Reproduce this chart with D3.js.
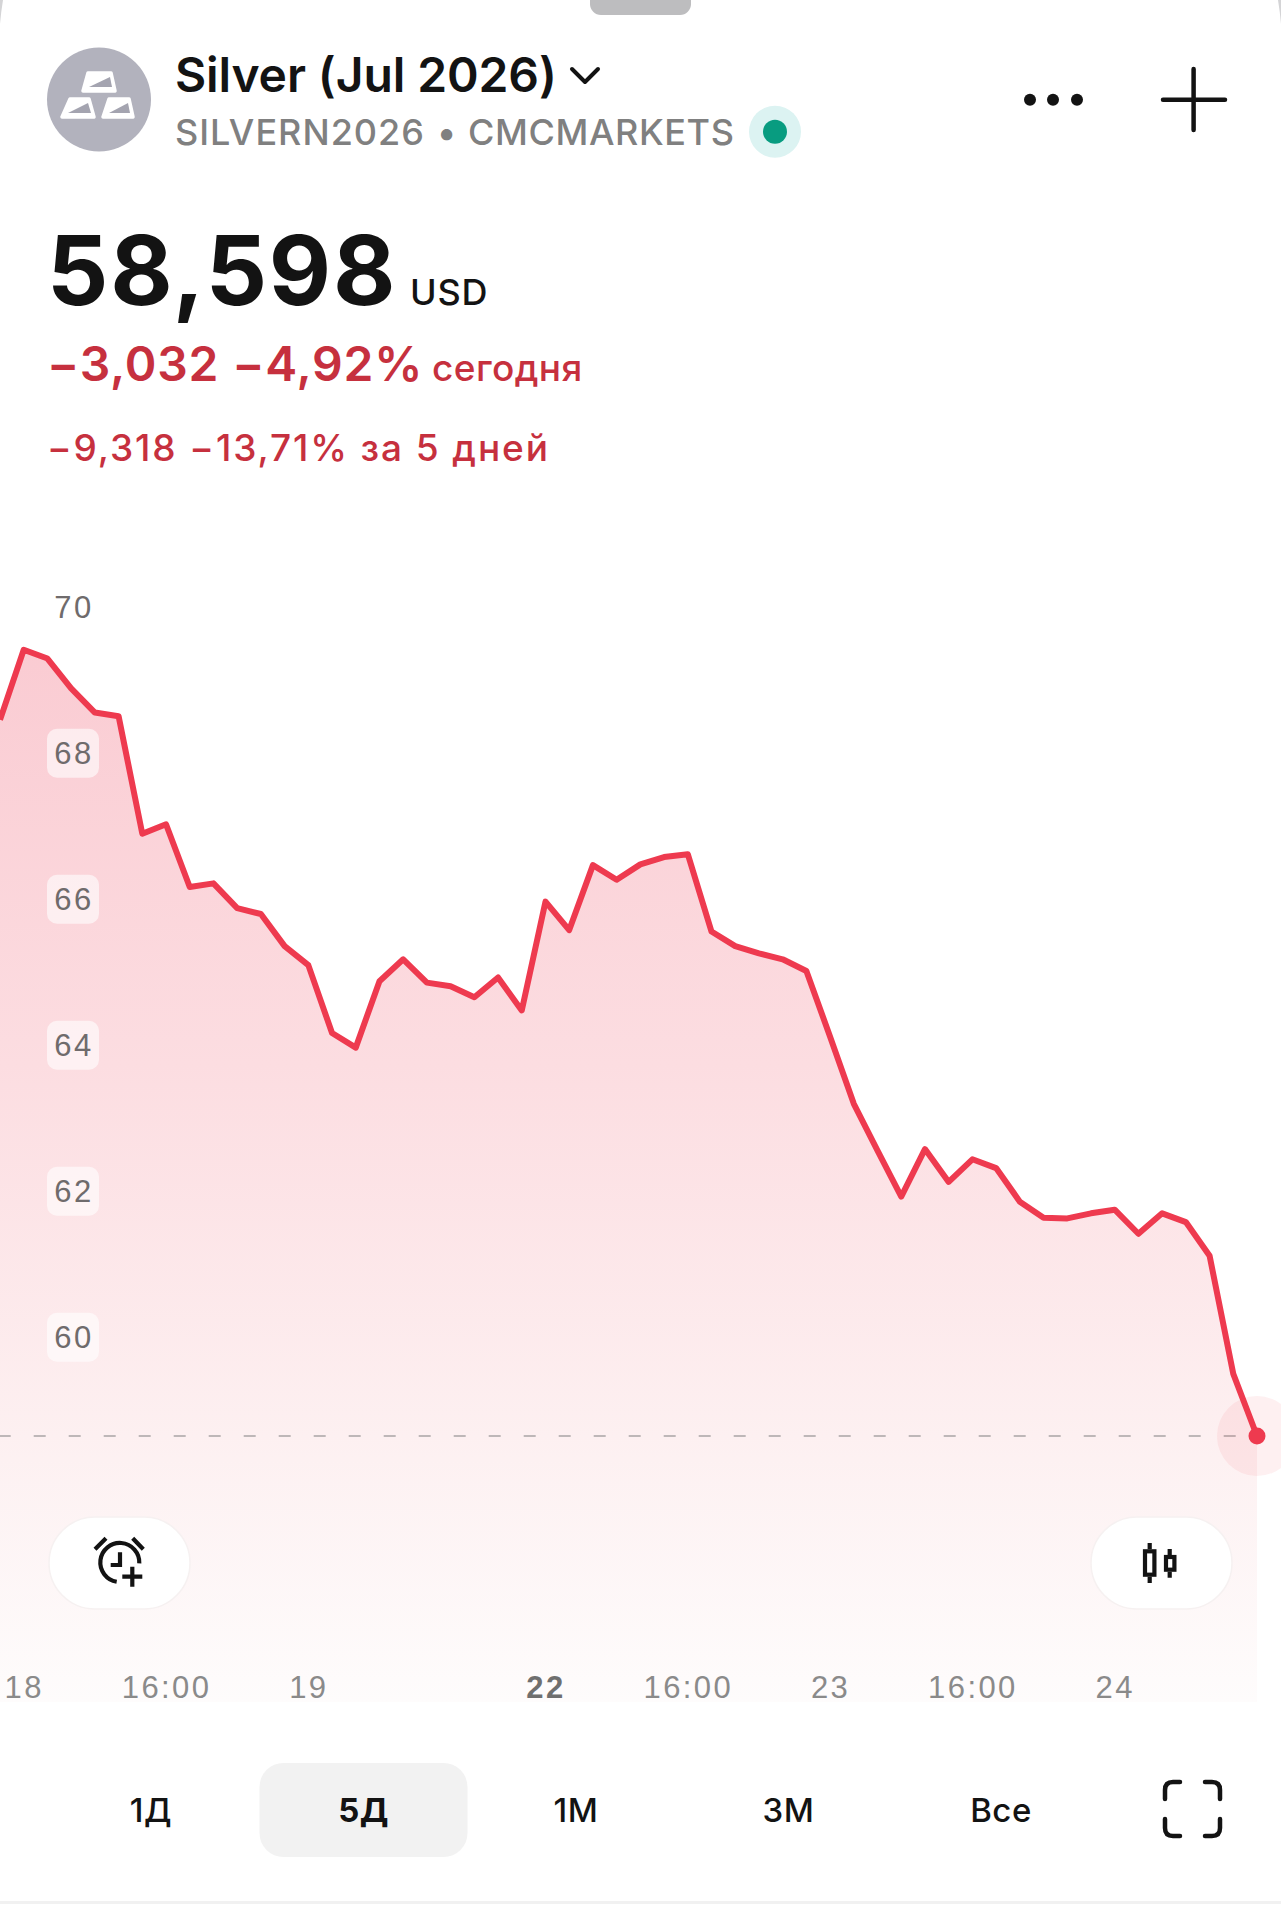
<!DOCTYPE html>
<html>
<head>
<meta charset="utf-8">
<script src="https://cdn.jsdelivr.net/npm/d3@7/dist/d3.min.js"></script>
<style>
  html, body { margin: 0; padding: 0; background: #fff; }
  svg { display: block; font-family: Inter, "Noto Sans", sans-serif; }
</style>
</head>
<body>
<svg></svg>
<script>
const width = 1281;
const height = 1920;

// Values, one per 5D bar
const prices = [
  68.45, 69.41, 69.29, 68.88, 68.55, 68.50, 66.89, 67.02, 66.16, 66.21,
  65.87, 65.79, 65.35, 65.09, 64.16, 63.96, 64.87, 65.17, 64.85, 64.80,
  64.65, 64.92, 64.47, 65.96, 65.57, 66.46, 66.26, 66.47, 66.57, 66.61,
  65.55, 65.35, 65.25, 65.17, 65.01, 64.11, 63.19, 62.55, 61.92, 62.57,
  62.12, 62.43, 62.31, 61.85, 61.63, 61.62, 61.69, 61.74, 61.41, 61.69,
  61.57, 61.11, 59.49, 58.64
];
const yTicks = [70, 68, 66, 64, 62, 60];
const xTickBars = [1, 7, 13, 23, 29, 35, 41, 47];
const xTickLabels = ["18", "16:00", "19", "22", "16:00", "23", "16:00", "24"];
const boldXLabel = "22";
const ranges = ["1Д", "5Д", "1М", "3М", "Все"];
const activeRange = "5Д";

const red = "#ee3a4f";
const textRed = "#c6303e";
const grey = "#808080";
const black = "#131313";

const svg = d3.select("svg")
  .attr("width", width)
  .attr("height", height)
  .attr("viewBox", `0 0 ${width} ${height}`);

const x = d3.scaleLinear().domain([0, prices.length - 1]).range([0, 1257]);
const y = d3.scaleLinear().domain([60, 70]).range([1336.7, 606.7]);
const chartBottom = 1702;

// Gradient under the line
const grad = svg.append("defs").append("linearGradient")
  .attr("id", "fade")
  .attr("gradientUnits", "userSpaceOnUse")
  .attr("x1", 0).attr("x2", 0)
  .attr("y1", 640).attr("y2", chartBottom);
grad.append("stop").attr("offset", "0%").attr("stop-color", "#facbd2");
grad.append("stop").attr("offset", "40%").attr("stop-color", "#fcdde1");
grad.append("stop").attr("offset", "75%").attr("stop-color", "#fdf0f1");
grad.append("stop").attr("offset", "100%").attr("stop-color", "#fefcfc");

const indexed = prices.map((p, i) => [i, p]);

svg.append("path")
  .attr("d", d3.area().x(d => x(d[0])).y0(chartBottom).y1(d => y(d[1]))(indexed))
  .attr("fill", "url(#fade)");

// Price level dashes
const last = indexed[indexed.length - 1];
svg.append("line")
  .attr("x1", 0).attr("x2", x(last[0]))
  .attr("y1", y(last[1])).attr("y2", y(last[1]))
  .attr("stroke", "#a9a4a5")
  .attr("stroke-width", 1.6)
  .attr("stroke-dasharray", "12 23")
  .attr("stroke-dashoffset", 1.3);

// Y axis
const yAxis = svg.append("g")
  .call(d3.axisLeft(y).tickValues(yTicks).tickSize(0).tickFormat(d3.format("d")));
yAxis.select(".domain").remove();
yAxis.selectAll(".tick")
  .insert("rect", "text")
  .attr("x", 47).attr("y", -24.5)
  .attr("width", 52).attr("height", 49)
  .attr("rx", 10)
  .attr("fill", "#fff")
  .attr("fill-opacity", 0.6);
yAxis.selectAll(".tick text")
  .attr("x", 74)
  .attr("dy", "0.36em")
  .attr("text-anchor", "middle")
  .attr("fill", "#6f6b6c")
  .style("font-size", "31px")
  .style("font-weight", 300)
  .style("letter-spacing", "2.6px");

// Line and last price marker
svg.append("path")
  .attr("d", d3.line().x(d => x(d[0])).y(d => y(d[1]))(indexed))
  .attr("fill", "none")
  .attr("stroke", red)
  .attr("stroke-width", 6)
  .attr("stroke-linejoin", "round");

svg.append("circle")
  .attr("cx", x(last[0])).attr("cy", y(last[1])).attr("r", 40)
  .attr("fill", red).attr("fill-opacity", 0.08);
svg.append("circle")
  .attr("cx", x(last[0])).attr("cy", y(last[1])).attr("r", 8.5)
  .attr("fill", red);

// X axis
const xAxis = svg.append("g")
  .attr("transform", `translate(0,${chartBottom - 32})`)
  .call(d3.axisBottom(x).tickValues(xTickBars).tickSize(0)
    .tickFormat(d => xTickLabels[xTickBars.indexOf(d)]));
xAxis.select(".domain").remove();
xAxis.selectAll(".tick text")
  .attr("y", 0)
  .attr("dy", "0.9em")
  .attr("fill", d => xTickLabels[xTickBars.indexOf(d)] === boldXLabel ? "#6f6f6f" : "#8a8a8a")
  .style("font-size", "31px")
  .style("letter-spacing", "2.4px")
  .style("font-weight", d => xTickLabels[xTickBars.indexOf(d)] === boldXLabel ? 700 : 300);

// Top handle and card corners
svg.append("rect")
  .attr("x", 590).attr("y", -12).attr("width", 101).attr("height", 27).attr("rx", 11)
  .attr("fill", "#bdbdbf");
svg.append("path")
  .attr("d", "M0,0 L3,0 Q1,12 0,24 Z")
  .attr("fill", "#d4d4d6");
svg.append("path")
  .attr("d", `M${width},0 L${width - 3},0 Q${width - 1},12 ${width},24 Z`)
  .attr("fill", "#d4d4d6");

// Symbol avatar
const avatar = svg.append("g");
avatar.append("circle").attr("cx", 99).attr("cy", 99.5).attr("r", 52).attr("fill", "#b2b2bd");
const barShapes = [
  { top: [88, 111], bottom: [83, 115], y0: 73, y1: 91 },
  { top: [70, 89], bottom: [62, 94], y0: 99, y1: 117 },
  { top: [109, 129], bottom: [103, 133], y0: 99, y1: 117 }
];
barShapes.forEach(b => {
  avatar.append("path")
    .attr("d", `M${b.top[0]},${b.y0} L${b.top[1]},${b.y0} L${b.bottom[1]},${b.y1} L${b.bottom[0]},${b.y1} Z`)
    .attr("fill", "#fff")
    .attr("stroke", "#fff")
    .attr("stroke-width", 3.5)
    .attr("stroke-linejoin", "round");
  avatar.append("path")
    .attr("d", `M${b.bottom[0] + 6},${b.y1 - 4} L${b.top[1] - 1},${b.y0 + 4} L${b.bottom[1] - 3},${b.y1 - 4} Z`)
    .attr("fill", "#a4a4b0");
});

// Header text
function label(txt, px, py, size, weight, fill, spacing) {
  return svg.append("text")
    .attr("x", px).attr("y", py)
    .attr("fill", fill)
    .style("font-size", size + "px")
    .style("font-weight", weight)
    .style("letter-spacing", (spacing || 0) + "px")
    .text(txt);
}

label("Silver (Jul 2026)", 175, 92, 48, 600, black, -0.1);
svg.append("path")
  .attr("d", "M572,69 L585,82 L598,69")
  .attr("fill", "none").attr("stroke", black).attr("stroke-width", 4)
  .attr("stroke-linecap", "round").attr("stroke-linejoin", "round");
label("SILVERN2026", 175, 145, 36, 500, grey, 1);
label("•", 437, 145, 36, 500, grey);
label("CMCMARKETS", 468, 145, 36, 500, grey, 0.6);
svg.append("circle").attr("cx", 775).attr("cy", 131.7).attr("r", 26).attr("fill", "#dcf3f2");
svg.append("circle").attr("cx", 775).attr("cy", 131.7).attr("r", 12).attr("fill", "#089c80");

label("58,598", 47, 305, 96, 700, black, 1.8);
label("USD", 410, 305, 36, 500, black, 0.8);
label("−3,032 −4,92%", 47, 381, 48, 600, textRed, 0.8);
label("сегодня", 432, 381, 37, 500, textRed, 0.4);
label("−9,318 −13,71% за 5 дней", 47, 461, 37, 500, textRed, 1.9);

// Menu dots and plus
[1030, 1053, 1077].forEach(cx => {
  svg.append("circle").attr("cx", cx).attr("cy", 99.7).attr("r", 6).attr("fill", black);
});
svg.append("path")
  .attr("d", "M1193.6,69 V130 M1163,99.7 H1225")
  .attr("stroke", black).attr("stroke-width", 4.5).attr("stroke-linecap", "round");

// Floating chart buttons
[49, 1091].forEach(bx => {
  svg.append("rect")
    .attr("x", bx).attr("y", 1517).attr("width", 141).attr("height", 92).attr("rx", 46)
    .attr("fill", "#fff")
    .attr("stroke", "#f6f1f1")
    .attr("stroke-width", 1.5);
});
svg.append("path")
  .attr("d", "M139.3,1563.3 A19.5,19.5 0 1 0 116.7,1581.7 M95,1549.3 L106,1538.3 M132.7,1538.3 L143.3,1549.3 M120,1552.3 V1565 H110.7 M132.3,1566.7 V1586.7 M122.3,1576.7 H142.3")
  .attr("fill", "none").attr("stroke", black).attr("stroke-width", 4.2);
const candles = svg.append("g").attr("transform", "translate(-2,0)");
candles.append("path")
  .attr("d", "M1151.7,1543 V1549.3 M1151.7,1576.7 V1583 M1171.7,1549 V1555 M1171.7,1571.7 V1577.7")
  .attr("stroke", black).attr("stroke-width", 4.2);
candles.append("rect")
  .attr("x", 1147).attr("y", 1551.3).attr("width", 9.4).attr("height", 23.4)
  .attr("fill", "#fff").attr("stroke", black).attr("stroke-width", 4.2);
candles.append("rect")
  .attr("x", 1168).attr("y", 1557).attr("width", 8.4).attr("height", 12.7)
  .attr("fill", "#fff").attr("stroke", black).attr("stroke-width", 4.2);

// Range buttons
const rangeX = d3.scalePoint().domain(ranges).range([151, 1001]);
svg.append("rect")
  .attr("x", rangeX(activeRange) - 104).attr("y", 1763)
  .attr("width", 208).attr("height", 94).attr("rx", 24)
  .attr("fill", "#f2f2f2");
svg.selectAll(".range")
  .data(ranges)
  .join("text")
  .attr("class", "range")
  .attr("x", d => rangeX(d))
  .attr("y", 1822)
  .attr("text-anchor", "middle")
  .attr("fill", black)
  .style("font-size", "33px")
  .style("letter-spacing", "0.5px")
  .style("font-weight", d => d === activeRange ? 700 : 500)
  .text(d => d);

// Fullscreen icon
svg.append("path")
  .attr("d", "M1165,1799 V1790 Q1165,1782 1173,1782 H1180 M1205,1782 H1212 Q1220,1782 1220,1790 V1799 M1220,1819 V1828 Q1220,1836 1212,1836 H1205 M1180,1836 H1173 Q1165,1836 1165,1828 V1819")
  .attr("fill", "none").attr("stroke", black).attr("stroke-width", 4.5).attr("stroke-linecap", "round");

// Bottom separator
svg.append("rect")
  .attr("x", 0).attr("y", 1901).attr("width", width).attr("height", 3)
  .attr("fill", "#f1f1f1");
</script>
</body>
</html>
